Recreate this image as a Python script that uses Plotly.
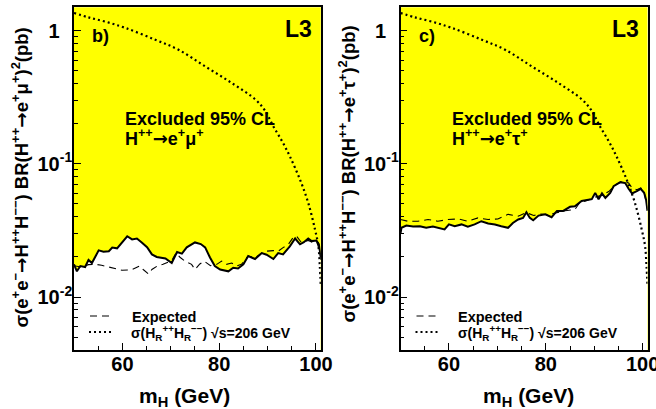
import plotly.graph_objects as go

W, H = 656, 409

# ---------------- data ----------------
# Panel b) : H++ -> e+ mu+
mass_b_obs = [50.0, 50.6, 51.3, 52.3, 53.0, 53.7, 55.1, 56.1, 57.2, 57.9, 58.9, 59.9, 61.0, 62.0, 63.0,
              64.0, 65.1, 66.1, 67.1, 68.9, 70.2, 71.3, 72.3, 73.3, 74.4, 75.0, 76.2, 77.1, 78.1, 79.1,
              80.2, 81.9, 82.9, 83.9, 85.0, 86.0, 87.4, 88.8, 89.8, 91.2, 92.2, 93.2, 94.6, 95.7, 96.7,
              97.5, 98.4, 99.1, 100.1, 100.6, 101.0]
obs_b = [0.0176, 0.0156, 0.0171, 0.0168, 0.0190, 0.0180, 0.0224, 0.0219, 0.0221, 0.0235, 0.0232, 0.0257,
         0.0286, 0.0271, 0.0275, 0.0257, 0.0237, 0.0209, 0.0200, 0.0195, 0.0180, 0.0218, 0.0212, 0.0236,
         0.0251, 0.0257, 0.0250, 0.0236, 0.0198, 0.0171, 0.0161, 0.0156, 0.0166, 0.0164, 0.0176, 0.0203,
         0.0193, 0.0214, 0.0208, 0.0193, 0.0214, 0.0209, 0.0240, 0.0275, 0.0249, 0.0258, 0.0275, 0.0263,
         0.0266, 0.0249, 0.0200]
mass_b_exp = [50.0, 51.5, 53.0, 54.5, 55.7, 57.0, 58.7, 59.9, 61.8, 63.6, 64.3, 65.4, 66.1, 67.1, 68.4,
              69.2, 70.2, 71.1, 71.9, 73.1, 74.3, 75.0, 76.0, 76.9, 78.2, 79.5, 80.5, 81.5, 82.6, 83.6,
              84.6, 86.0, 87.4, 88.8, 89.8, 91.2, 92.2, 93.2, 94.3, 95.3, 96.0, 97.0, 98.4, 99.4, 100.1,
              100.8, 101.0]
exp_b = [0.0172, 0.0168, 0.0175, 0.0176, 0.0173, 0.0168, 0.0162, 0.0159, 0.0160, 0.0171, 0.0161, 0.0149,
         0.0161, 0.0170, 0.0176, 0.0182, 0.0188, 0.0215, 0.0199, 0.0184, 0.0176, 0.0161, 0.0177, 0.0186,
         0.0172, 0.0176, 0.0186, 0.0176, 0.0180, 0.0171, 0.0176, 0.0203, 0.0197, 0.0214, 0.0221, 0.0223,
         0.0221, 0.0235, 0.0249, 0.0280, 0.0286, 0.0256, 0.0266, 0.0256, 0.0263, 0.0220, 0.0190]

# Panel c) : H++ -> e+ tau+
mass_c_obs = [50.0, 50.2, 51.2, 52.6, 54.0, 55.3, 56.7, 58.1, 59.1, 60.0, 61.2, 62.6, 63.9, 65.3, 66.7,
              68.1, 69.5, 70.8, 72.2, 73.2, 74.3, 75.3, 76.0, 76.7, 77.4, 78.5, 79.9, 81.2, 82.3, 83.6,
              85.0, 86.0, 87.4, 88.8, 89.5, 90.2, 90.9, 91.6, 92.3, 93.3, 94.0, 95.4, 96.4, 97.1, 97.8,
              98.8, 99.6, 100.3, 100.7, 101.0]
obs_c = [0.0300, 0.0331, 0.0344, 0.0338, 0.0340, 0.0331, 0.0338, 0.0330, 0.0322, 0.0351, 0.0340, 0.0351,
         0.0338, 0.0351, 0.0371, 0.0357, 0.0351, 0.0340, 0.0331, 0.0360, 0.0382, 0.0393, 0.0434, 0.0393,
         0.0377, 0.0409, 0.0418, 0.0398, 0.0443, 0.0443, 0.0476, 0.0480, 0.0526, 0.0538, 0.0543, 0.0606,
         0.0543, 0.0600, 0.0555, 0.0606, 0.0680, 0.0729, 0.0718, 0.0650, 0.0600, 0.0624, 0.0650, 0.0606,
         0.0538, 0.0443]
mass_c_exp = [50.0, 51.5, 53.6, 55.7, 57.7, 59.8, 61.9, 63.9, 66.0, 68.1, 70.1, 72.2, 74.3, 76.0, 77.5,
              79.0, 80.5, 82.0, 84.0, 86.0, 87.0, 88.5, 90.0, 91.5, 93.0, 94.5, 95.6, 96.4, 97.1, 97.8,
              98.8, 99.6, 100.3, 101.0]
exp_c = [0.0382, 0.0371, 0.0371, 0.0382, 0.0371, 0.0382, 0.0386, 0.0371, 0.0393, 0.0382, 0.0386, 0.0418,
         0.0405, 0.0430, 0.0410, 0.0420, 0.0415, 0.0430, 0.0445, 0.0454, 0.0511, 0.0530, 0.0560, 0.0580,
         0.0620, 0.0700, 0.0735, 0.0730, 0.0720, 0.0660, 0.0640, 0.0660, 0.0620, 0.0450]

# theoretical cross section sigma(H_R++ H_R--) at sqrt(s)=206 GeV
mass_theory = [50.0, 53.0, 56.5, 60.6, 66.8, 71.6, 77.1, 82.6, 87.5, 89.5, 91.2, 93.0, 94.6, 96.7, 98.4,
               99.8, 100.5, 100.8, 101.0]
sigma_theory = [1.36, 1.26, 1.17, 1.05, 0.856, 0.72, 0.54, 0.405, 0.304, 0.25, 0.191, 0.148, 0.114, 0.0762,
                0.051, 0.0322, 0.0241, 0.017, 0.0121]

x_ticks = [60, 80, 100]
x_tick_labels = ["60", "80", "100"]
x_minor = [55, 65, 70, 75, 85, 90, 95]
y_ticks = [0.01, 0.1, 1]
y_tick_labels = ["10<sup>-2</sup>", "10<sup>-1</sup>",
                 "1<sup><span style='color:rgba(0,0,0,0)'>-1</span></sup>"]
y_minor = [0.004, 0.005, 0.006, 0.007, 0.008, 0.009,
           0.02, 0.03, 0.04, 0.05, 0.06, 0.07, 0.08, 0.09,
           0.2, 0.3, 0.4, 0.5, 0.6, 0.7, 0.8, 0.9]

X_RANGE = [50, 101]
Y_RANGE_LOG = [-2.3979, 0.1761]   # 0.004 .. 1.5
FILL_FLOOR = 1e-4

FONT = "Liberation Sans, Arial, Helvetica, sans-serif"
YELLOW = "#ffff00"
ARROW = "<span style='font-family:DejaVu Sans'>→</span>"


def px(x):
    return x / W


def py(y):
    return 1 - y / H


fig = go.Figure()

panels = [
    dict(xa="x", ya="y", mo=mass_b_obs, o=obs_b, me=mass_b_exp, e=exp_b),
    dict(xa="x2", ya="y2", mo=mass_c_obs, o=obs_c, me=mass_c_exp, e=exp_c),
]
for p in panels:
    fig.add_trace(go.Scatter(x=p["mo"], y=[FILL_FLOOR] * len(p["mo"]), mode="lines",
                             line=dict(width=0, color="white"), xaxis=p["xa"], yaxis=p["ya"],
                             showlegend=False, hoverinfo="skip"))
    fig.add_trace(go.Scatter(x=p["mo"], y=p["o"], mode="lines", fill="tonexty", fillcolor="white",
                             line=dict(color="black", width=2), xaxis=p["xa"], yaxis=p["ya"],
                             showlegend=False))
    fig.add_trace(go.Scatter(x=p["me"], y=p["e"], mode="lines",
                             line=dict(color="black", width=1.1, dash="7px,5px"),
                             xaxis=p["xa"], yaxis=p["ya"], showlegend=False))
    fig.add_trace(go.Scatter(x=mass_theory, y=sigma_theory, mode="lines", line_shape="spline",
                             line=dict(color="black", width=2.2, dash="2px,3px"),
                             xaxis=p["xa"], yaxis=p["ya"], showlegend=False))

tickfont = dict(family=FONT, size=20, color="black", weight="bold")
common_x = dict(range=X_RANGE, tickmode="array", tickvals=x_ticks, ticktext=x_tick_labels,
                ticks="inside", ticklen=7, tickwidth=1.2, tickcolor="black",
                minor=dict(tickmode="array", tickvals=x_minor, ticks="inside", ticklen=4,
                           tickwidth=1.2, tickcolor="black"),
                showline=True, linecolor="black", linewidth=1.6, mirror=True,
                showgrid=False, zeroline=False, tickfont=tickfont, automargin=False,
                ticklabelstandoff=-5, ticklabeloverflow="allow")
common_y = dict(type="log", range=Y_RANGE_LOG, tickmode="array", tickvals=y_ticks,
                ticktext=y_tick_labels, ticks="inside", ticklen=7, tickwidth=1.2, tickcolor="black",
                minor=dict(tickmode="array", tickvals=y_minor, ticks="inside", ticklen=4,
                           tickwidth=1.2, tickcolor="black"),
                showline=True, linecolor="black", linewidth=1.6, mirror=True,
                showgrid=False, zeroline=False, tickfont=tickfont, automargin=False,
                ticklabelstandoff=-4, ticklabeloverflow="allow")

ydom = [py(350), py(7.3)]
fig.update_layout(
    width=W, height=H, margin=dict(l=0, r=0, t=0, b=0, autoexpand=False),
    paper_bgcolor="white", plot_bgcolor=YELLOW,
    xaxis=dict(domain=[px(74), px(320.8)], anchor="y", **common_x),
    yaxis=dict(domain=ydom, anchor="x", **common_y),
    xaxis2=dict(domain=[px(400.5), px(647.5)], anchor="y2", **common_x),
    yaxis2=dict(domain=ydom, anchor="x2", **common_y),
    showlegend=False,
)

ann = []
shapes = []


def text(x, y, s, size, xanchor="center", yanchor="middle", angle=0):
    ann.append(dict(x=px(x), y=py(y), xref="paper", yref="paper", text=s, showarrow=False,
                    xanchor=xanchor, yanchor=yanchor, textangle=angle,
                    font=dict(family=FONT, size=size, color="black", weight="bold")))


ytitles = [
    f"σ(e<sup>+</sup>e<sup>−</sup>{ARROW}H<sup>++</sup>H<sup>−−</sup>) BR(H<sup>++</sup>{ARROW}e<sup>+</sup>μ<sup>+</sup>)<sup>2</sup>(pb)",
    f"σ(e<sup>+</sup>e<sup>−</sup>{ARROW}H<sup>++</sup>H<sup>−−</sup>) BR(H<sup>++</sup>{ARROW}e<sup>+</sup>τ<sup>+</sup>)<sup>2</sup>(pb)",
]
decays = [f"H<sup>++</sup>{ARROW}e<sup>+</sup>μ<sup>+</sup>", f"H<sup>++</sup>{ARROW}e<sup>+</sup>τ<sup>+</sup>"]
tags = ["b)", "c)"]
offsets = [0, 326.5]
xtitle_x = [184.5, 528]
ytitle = [(20.5, 178), (347.5, 174)]

for i, dx in enumerate(offsets):
    text(100.5 + dx, 36, tags[i], 18)
    text(298.5 + dx, 29.5, "L3", 23)
    text(123 + dx, 118.5, "Excluded 95% CL", 18, xanchor="left")
    text(123 + dx, 137, decays[i], 18, xanchor="left")
    text(129.5 + dx, 317, "Expected", 14.5, xanchor="left")
    text(129 + dx, 333, "σ(H<sub>R</sub><sup>++</sup>H<sub>R</sub><sup>−−</sup>) √s=206 GeV", 14,
         xanchor="left")
    text(xtitle_x[i], 397, "m<sub>H</sub> (GeV)", 21)
    text(ytitle[i][0], ytitle[i][1], ytitles[i], 18.5, angle=-90)
    shapes.append(dict(type="line", xref="paper", yref="paper", x0=px(90 + dx), x1=px(113 + dx),
                       y0=py(316), y1=py(316), line=dict(color="black", width=1.1, dash="7px,5px")))
    shapes.append(dict(type="line", xref="paper", yref="paper", x0=px(89 + dx), x1=px(113 + dx),
                       y0=py(332), y1=py(332), line=dict(color="black", width=2, dash="2px,3px")))

fig.update_layout(annotations=ann, shapes=shapes)
fig.write_html("out.html", config={"displayModeBar": False},
               post_script="document.body.style.margin='0px';document.body.style.overflow='hidden';")
